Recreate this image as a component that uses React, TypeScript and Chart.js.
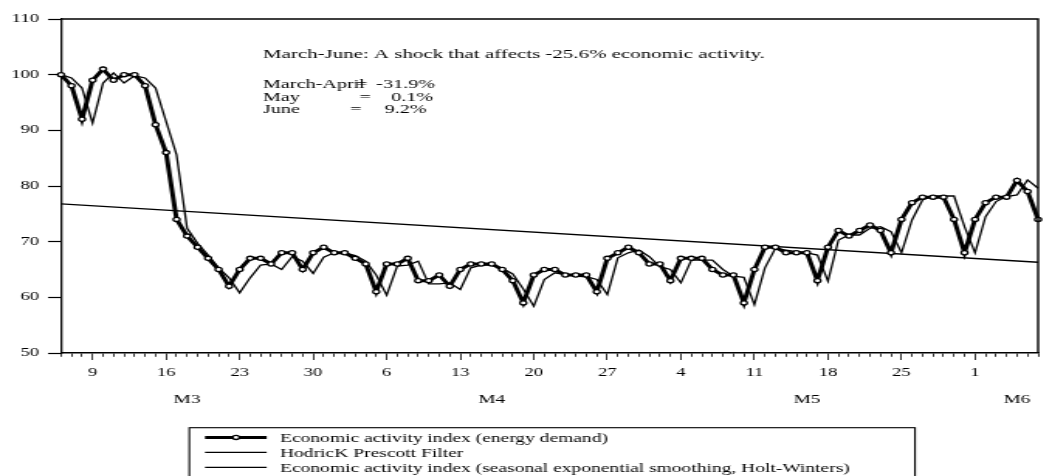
import { useEffect, useRef } from 'react';
import { Chart, registerables } from 'chart.js';

Chart.register(...registerables);

// ---- data ---------------------------------------------------------------

const FIRST_DAY = '2020-03-06';

// Daily economic activity index (energy demand), 6 March - 7 June
const ACTIVITY = [
  100, 98, 92, 99, 101, 99, 100, 100, 98, 91,
  86, 74, 71, 69, 67, 65, 62, 65, 67, 67,
  66, 68, 68, 65, 68, 69, 68, 68, 67, 66,
  61, 66, 66, 67, 63, 63, 64, 62, 65, 66,
  66, 66, 65, 63, 59, 64, 65, 65, 64, 64,
  64, 61, 67, 68, 69, 68, 66, 66, 63, 67,
  67, 67, 65, 64, 64, 59, 65, 69, 69, 68,
  68, 68, 63, 69, 72, 71, 72, 73, 72, 68,
  74, 77, 78, 78, 78, 74, 68, 74, 77, 78,
  78, 81, 79, 74,
];

// Seasonal exponential smoothing (Holt-Winters)
const HOLT_WINTERS = [
  100, 99.4, 97.6, 91.3, 98.5, 100.3, 98.5, 99.8, 99.4, 97.6,
  91.6, 85.6, 72.4, 69.7, 67.6, 65.3, 63.5, 60.8, 63.5, 65.8,
  66, 65, 67.3, 66.5, 64.3, 67.2, 68, 68, 67.5, 66.5,
  64, 60.4, 65.6, 65.8, 66.5, 62.4, 62.4, 62.6, 61.4, 65.3,
  65.8, 65.8, 65.2, 64.2, 61.5, 58.4, 63.2, 64.4, 64.1, 63.8,
  63.7, 63.2, 60.5, 67.1, 68, 68.5, 67.3, 65.5, 65, 62.6,
  66.7, 66.7, 66.7, 65, 63.8, 63.6, 58.7, 65.3, 68.8, 68.5,
  68.2, 68, 67.6, 62.9, 70.3, 71.2, 71.2, 72.4, 72.7, 71.8,
  68, 73.9, 77.5, 78.2, 78.2, 78.2, 72.7, 68, 74.5, 77.2,
  78.1, 78.4, 81.1, 79.6,
];

// Hodrick-Prescott trend: a straight line between its first and last day
const HP_TREND_ENDS = [76.8, 66.3];

const MONTH_MARKS: [string, string][] = [
  ['2020-03-18', 'M3'],
  ['2020-04-16', 'M4'],
  ['2020-05-16', 'M5'],
  ['2020-06-05', 'M6'],
];

const SERIES_NAMES = [
  'Economic activity index (energy demand)',
  'HodricK Prescott Filter',
  'Economic activity index (seasonal exponential smoothing, Holt-Winters)',
];

const SHOCK_TITLE = 'March-June: A shock that affects -25.6% economic activity.';
const SHOCK_ROWS: [string, string][] = [
  ['March-April', '-31.9%'],
  ['May', '0.1%'],
  ['June', '9.2%'],
];

const Y_MIN = 50;
const Y_MAX = 110;
const Y_STEP = 10;

// ---- derived ------------------------------------------------------------

const DAY_MS = 86400000;
const START_MS = Date.parse(FIRST_DAY + 'T00:00:00Z');
const DAYS = ACTIVITY.map((_, i) => new Date(START_MS + i * DAY_MS).toISOString().slice(0, 10));
const isMonday = (i: number) => new Date(DAYS[i] + 'T00:00:00Z').getUTCDay() === 1;
const dayOfMonth = (i: number) => String(new Date(DAYS[i] + 'T00:00:00Z').getUTCDate());
const MONTH_AT: Record<number, string> = {};
MONTH_MARKS.forEach(([day, label]) => {
  const i = DAYS.indexOf(day);
  if (i >= 0) MONTH_AT[i] = label;
});
const HP_TREND = DAYS.map((_, i) =>
  i === 0 ? HP_TREND_ENDS[0] : i === DAYS.length - 1 ? HP_TREND_ENDS[1] : null
);

// ---- layout -------------------------------------------------------------

const VIEW_W = 1052;
const VIEW_H = 476;
const CANVAS_W = 679; // drawn narrow, shown wide
const STRETCH = VIEW_W / CANVAS_W;
const sx = (v: number) => v / STRETCH;

const SERIF = "'Liberation Serif', 'Times New Roman', Times, serif";
const BLACK = '#000';

const framePlugin = {
  id: 'frame',
  afterDatasetsDraw(chart: any) {
    const { ctx, chartArea: a } = chart;
    ctx.save();
    ctx.strokeStyle = BLACK;
    ctx.lineWidth = 1.4;
    ctx.beginPath();
    ctx.moveTo(a.left, a.top);
    ctx.lineTo(a.right, a.top);
    ctx.lineTo(a.right, a.bottom);
    ctx.stroke();
    ctx.restore();
  },
};

const notesPlugin = {
  id: 'shockNotes',
  afterDraw(chart: any) {
    const { ctx } = chart;
    ctx.save();
    ctx.fillStyle = BLACK;
    ctx.textBaseline = 'alphabetic';
    ctx.textAlign = 'left';
    ctx.font = `13.5px ${SERIF}`;
    ctx.fillText(SHOCK_TITLE, sx(263), 58.3);
    ctx.font = `13px ${SERIF}`;
    const rows = [
      { y: 87.7, eq: 356, right: 435 },
      { y: 100.5, eq: 359.3, right: 433.3 },
      { y: 113.3, eq: 350, right: 426.7 },
    ];
    SHOCK_ROWS.forEach(([name, value], k) => {
      const r = rows[k];
      ctx.textAlign = 'left';
      ctx.fillText(name, sx(263), r.y);
      ctx.fillText('=', sx(r.eq), r.y);
      ctx.textAlign = 'right';
      ctx.fillText(value, sx(r.right), r.y);
    });
    ctx.restore();
  },
};

const legendPlugin = {
  id: 'boxLegend',
  afterDraw(chart: any) {
    const { ctx } = chart;
    const left = sx(189.3);
    const right = sx(915);
    const top = 427.7;
    ctx.save();
    ctx.strokeStyle = BLACK;
    ctx.lineWidth = 1.1;
    ctx.strokeRect(left, top, right - left, VIEW_H + 20 - top);
    ctx.font = `12.6px ${SERIF}`;
    ctx.fillStyle = BLACK;
    ctx.textAlign = 'left';
    ctx.textBaseline = 'alphabetic';
    chart.data.datasets.forEach((ds: any, k: number) => {
      const base = 441.7 + k * 15;
      const ly = base - 4.3;
      ctx.beginPath();
      ctx.lineWidth = ds.borderWidth;
      ctx.strokeStyle = ds.borderColor;
      ctx.moveTo(sx(205), ly);
      ctx.lineTo(sx(266.7), ly);
      ctx.stroke();
      if (ds.pointRadius > 0) {
        ctx.beginPath();
        ctx.arc(sx(236), ly, ds.pointRadius, 0, Math.PI * 2);
        ctx.fillStyle = ds.pointBackgroundColor;
        ctx.fill();
        ctx.lineWidth = ds.pointBorderWidth;
        ctx.strokeStyle = ds.pointBorderColor;
        ctx.stroke();
      }
      ctx.fillStyle = BLACK;
      ctx.fillText(ds.label, sx(280), base);
    });
    ctx.restore();
  },
};

export default function App() {
  const canvasRef = useRef<HTMLCanvasElement>(null);

  useEffect(() => {
    const canvas = canvasRef.current;
    if (!canvas) return;
    const chart = new Chart(canvas, {
      type: 'line',
      data: {
        labels: DAYS,
        datasets: [
          {
            label: SERIES_NAMES[0],
            data: ACTIVITY,
            borderColor: BLACK,
            borderWidth: 3,
            pointRadius: 2.1,
            pointBorderWidth: 1.3,
            pointBackgroundColor: '#fff',
            pointBorderColor: BLACK,
            tension: 0,
            clip: false,
          },
          {
            label: SERIES_NAMES[1],
            data: HP_TREND,
            borderColor: BLACK,
            borderWidth: 1.3,
            pointRadius: 0,
            spanGaps: true,
            tension: 0,
          },
          {
            label: SERIES_NAMES[2],
            data: HOLT_WINTERS,
            borderColor: BLACK,
            borderWidth: 1.3,
            pointRadius: 0,
            tension: 0,
          },
        ],
      } as any,
      options: {
        responsive: false,
        animation: false,
        devicePixelRatio: 1,
        events: [],
        layout: { padding: { top: 19, right: 5.8, bottom: VIEW_H - 353 - 30 - 25, left: 0 } },
        plugins: {
          legend: { display: false },
          tooltip: { enabled: false },
          title: { display: false },
        },
        scales: {
          x: {
            type: 'category',
            position: 'bottom',
            offset: false,
            afterFit: (s: any) => { s.height = 30; },
            border: { display: true, color: BLACK, width: 1.5 },
            grid: {
              drawOnChartArea: false,
              drawTicks: true,
              tickLength: 7,
              tickWidth: 0.8,
              tickColor: BLACK,
              tickBorderDash: (c: any) => (isMonday(c.index) ? [] : [3.3, 40]),
            },
            ticks: {
              autoSkip: false,
              maxRotation: 0,
              minRotation: 0,
              padding: 5.8,
              color: BLACK,
              font: { family: SERIF, size: 12 },
              callback: (_v: any, i: number) => (isMonday(i) ? dayOfMonth(i) : ''),
            },
          },
          months: {
            type: 'category',
            position: 'bottom',
            offset: false,
            afterFit: (s: any) => { s.height = 25; },
            border: { display: false },
            grid: { display: false, drawTicks: false },
            ticks: {
              autoSkip: false,
              maxRotation: 0,
              minRotation: 0,
              padding: 9,
              color: BLACK,
              font: { family: SERIF, size: 12.5 },
              callback: (_v: any, i: number) => MONTH_AT[i] ?? '',
            },
          },
          y: {
            type: 'linear',
            position: 'left',
            min: Y_MIN,
            max: Y_MAX,
            afterFit: (s: any) => { s.width = sx(61); },
            border: { display: true, color: BLACK, width: 1.3 },
            grid: {
              drawOnChartArea: false,
              drawTicks: true,
              tickLength: sx(13),
              tickWidth: 1.2,
              tickColor: BLACK,
            },
            ticks: {
              stepSize: Y_STEP,
              padding: sx(9),
              color: BLACK,
              font: { family: SERIF, size: 12 },
            },
          },
        },
      } as any,
      plugins: [framePlugin, notesPlugin, legendPlugin],
    });
    return () => chart.destroy();
  }, []);

  return (
    <div
      style={{
        position: 'absolute',
        left: 0,
        top: 0,
        width: VIEW_W,
        height: VIEW_H,
        overflow: 'hidden',
        background: '#fff',
      }}
    >
      <canvas
        ref={canvasRef}
        width={CANVAS_W}
        height={VIEW_H}
        style={{ width: `${VIEW_W}px`, height: `${VIEW_H}px`, display: 'block' }}
      />
    </div>
  );
}
